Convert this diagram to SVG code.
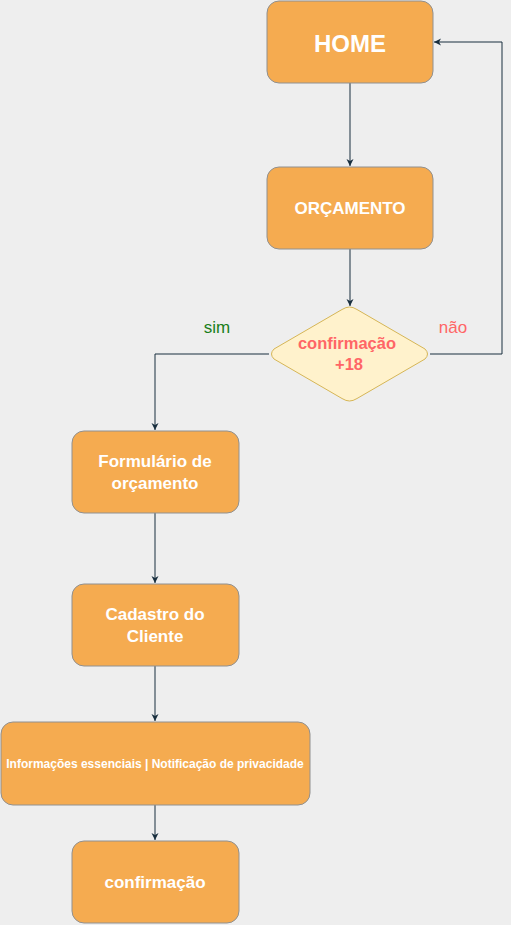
<svg xmlns="http://www.w3.org/2000/svg" width="511" height="925" viewBox="0 0 511 925">
<defs>
<marker id="ah" markerWidth="8" markerHeight="8" refX="7" refY="4" orient="auto" markerUnits="userSpaceOnUse">
<path d="M0,0.5 L7,4 L0,7.5 L2,4 Z" fill="#182E3E"/>
</marker>
<style>
.box{fill:#F5AB50;stroke:#909090;stroke-width:1}
.t{font-family:Helvetica,"Liberation Sans",Arial,sans-serif;font-weight:bold;fill:#FFFFFF;text-anchor:middle}
.e{fill:none;stroke:#182E3E;stroke-width:1;marker-end:url(#ah)}
.lbl{font-family:Helvetica,"Liberation Sans",Arial,sans-serif;font-size:17px;text-anchor:middle}
</style>
</defs>
<rect width="511" height="925" fill="#EEEEEE"/>
<g id="connectors">
<path class="e" d="M350,83 L350,166"/>
<path class="e" d="M350,249 L350,306"/>
<path class="e" d="M269,354 L155,354 L155,430"/>
<path class="e" d="M430,354 L502,354 L502,42 L434,42"/>
<path class="e" d="M155,513 L155,583"/>
<path class="e" d="M155,666 L155,721"/>
<path class="e" d="M155,805 L155,840"/>
</g>
<g id="home"><rect class="box" x="267" y="1" width="166" height="82" rx="12"/><text class="t" x="350" y="52" font-size="24">HOME</text></g>
<g id="orcamento"><rect class="box" x="267" y="167" width="166" height="82" rx="12"/><text class="t" x="350" y="214" font-size="17">ORÇAMENTO</text></g>
<g id="decisao"><path d="M349.5,307 Q353,307 357,309.5 L425,349 Q430,354 425,359 L357,398.5 Q353,401 349.5,401 Q346,401 342,398.5 L274,359 Q269,354 274,349 L342,309.5 Q346,307 349.5,307 Z" fill="#FFF2CC" stroke="#D6B656" stroke-width="1"/>
<text class="t" x="347" y="349" font-size="16.5" style="fill:#FF6666">confirmação</text><text class="t" x="349" y="370" font-size="16.5" style="fill:#FF6666">+18</text></g>
<g id="label-sim"><text class="lbl" x="217" y="333" fill="#1A7F1A">sim</text></g>
<g id="label-nao"><text class="lbl" x="453" y="333" fill="#FF6666">não</text></g>
<g id="formulario"><rect class="box" x="72" y="431" width="167" height="82" rx="12"/><text class="t" x="155" y="467" font-size="17">Formulário de</text><text class="t" x="155" y="489" font-size="17">orçamento</text></g>
<g id="cadastro"><rect class="box" x="72" y="584" width="167" height="82" rx="12"/><text class="t" x="155" y="620" font-size="17">Cadastro do</text><text class="t" x="155" y="642" font-size="17">Cliente</text></g>
<g id="informacoes"><rect class="box" x="1" y="722" width="309" height="83" rx="12"/><text class="t" x="155" y="768" font-size="12">Informações essenciais | Notificação de privacidade</text></g>
<g id="confirmacao"><rect class="box" x="72" y="841" width="167" height="82" rx="12"/><text class="t" x="155" y="888" font-size="17">confirmação</text></g>
</svg>
